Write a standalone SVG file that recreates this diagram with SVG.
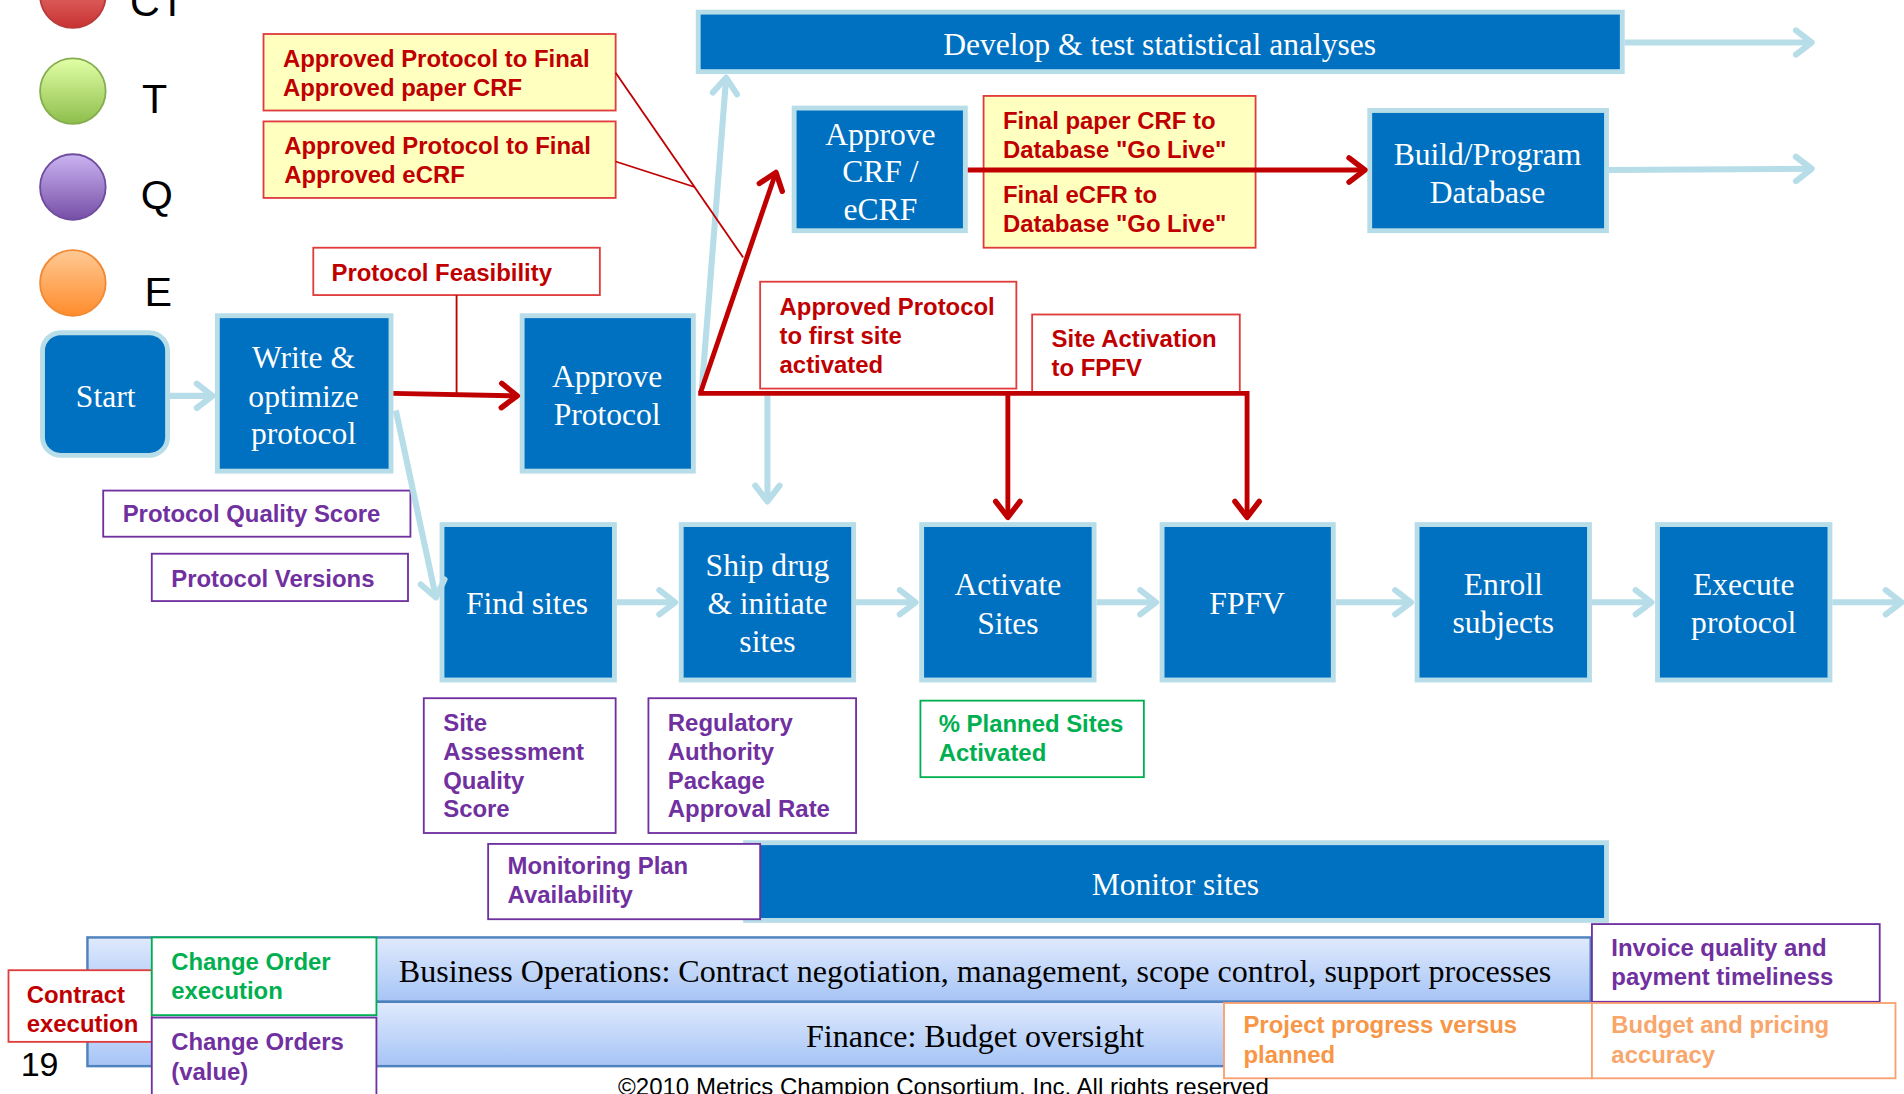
<svg xmlns="http://www.w3.org/2000/svg" width="1904" height="1094" viewBox="0 0 1904 1094">
<style>
.box{fill:#0070C0;stroke:#B7DDE8;stroke-width:4}
.bt{font-family:"Liberation Serif","Times New Roman",serif;font-size:26px;fill:#fff;text-anchor:middle}
.bk{font-family:"Liberation Serif","Times New Roman",serif;font-size:26.4px;fill:#000;text-anchor:middle}
.mt{font-family:"Liberation Sans",Arial,sans-serif;font-size:19.7px;font-weight:bold}
.lg{font-family:"Liberation Sans",Arial,sans-serif;font-size:34px;fill:#000}
.tr{fill:#C00000}.tp{fill:#7030A0}.tg{fill:#00B050}.to{fill:#F79646}
.rb{fill:#fff;stroke:#E03C3C;stroke-width:1.5}
.yb{fill:#FFFFC0;stroke:#E03C3C;stroke-width:1.5}
.pb{fill:#fff;stroke:#7030A0;stroke-width:1.5}
.gb{fill:#fff;stroke:#00B050;stroke-width:1.5}
.ob{fill:#fff;stroke:#F9A070;stroke-width:1.5}
.bar{fill:url(#gbar);stroke:#4F81BD;stroke-width:2}
.cb{stroke:#B7DDE8;stroke-width:5;fill:none}
.cr{stroke:#C00000;stroke-width:4;fill:none}
.ct{stroke:#C00000;stroke-width:1.5;fill:none}
</style>
<defs>
<linearGradient id="gbar" x1="0" y1="0" x2="0" y2="1"><stop offset="0" stop-color="#E0EAFD"/><stop offset="1" stop-color="#A6C4F6"/></linearGradient>
<linearGradient id="gr" x1="0" y1="0" x2="0" y2="1"><stop offset="0" stop-color="#F28A8A"/><stop offset="1" stop-color="#C83232"/></linearGradient>
<linearGradient id="gg" x1="0" y1="0" x2="0" y2="1"><stop offset="0" stop-color="#E2FFA6"/><stop offset="1" stop-color="#8DBE4C"/></linearGradient>
<linearGradient id="gp" x1="0" y1="0" x2="0" y2="1"><stop offset="0" stop-color="#CBB4F2"/><stop offset="1" stop-color="#764EA6"/></linearGradient>
<linearGradient id="go" x1="0" y1="0" x2="0" y2="1"><stop offset="0" stop-color="#FFC994"/><stop offset="1" stop-color="#FF8C2C"/></linearGradient>
<marker id="ab" markerUnits="userSpaceOnUse" viewBox="0 0 20 26" markerWidth="20" markerHeight="26" refX="17" refY="13" orient="auto" overflow="visible"><path d="M4,3 L17,13 L4,23" fill="none" stroke="#B7DDE8" stroke-width="5" stroke-linecap="round" stroke-linejoin="round"/></marker>
<marker id="ar" markerUnits="userSpaceOnUse" viewBox="0 0 20 26" markerWidth="20" markerHeight="26" refX="17" refY="13" orient="auto" overflow="visible"><path d="M4,3 L17,13 L4,23" fill="none" stroke="#C00000" stroke-width="4.5" stroke-linecap="round" stroke-linejoin="round"/></marker>
</defs>
<rect width="1904" height="1094" fill="#fff"/>
<g transform="scale(1.214286)">

<g id="legend">
<ellipse cx="60" cy="-4" rx="27" ry="27" fill="url(#gr)" stroke="#B83A3A" stroke-width="1.5"/>
<ellipse cx="60" cy="75" rx="27" ry="27" fill="url(#gg)" stroke="#86AE50" stroke-width="1.5"/>
<ellipse cx="60" cy="154" rx="27" ry="27" fill="url(#gp)" stroke="#6E4C9E" stroke-width="1.5"/>
<ellipse cx="60" cy="233" rx="27" ry="27" fill="url(#go)" stroke="#F08A34" stroke-width="1.5"/>
<text class="lg" x="107" y="13">CT</text>
<text class="lg" x="117" y="93">T</text>
<text class="lg" x="116" y="172">Q</text>
<text class="lg" x="119" y="252">E</text>
</g>

<g id="bars">
<rect class="bar" x="72" y="772" width="1238" height="53"/>
<rect class="bar" x="72" y="825" width="1238" height="53"/>
<text class="bk" x="803" y="809">Business Operations: Contract negotiation, management, scope control, support processes</text>
<text class="bk" x="803" y="862">Finance: Budget oversight</text>
</g>

<g id="monitor">
<rect class="box" x="614" y="694" width="709" height="64"/>
<text class="bt" x="968" y="737">Monitor sites</text>
</g>

<g id="start"><rect class="box" x="35" y="274" width="103" height="101" rx="15"/><text class="bt" x="87" y="335">Start</text></g>
<g id="write"><rect class="box" x="179" y="260" width="143" height="128"/><text class="bt" x="250" y="303">Write &amp;</text><text class="bt" x="250" y="335">optimize</text><text class="bt" x="250" y="366">protocol</text></g>
<g id="approve-protocol"><rect class="box" x="430" y="260" width="141" height="128"/><text class="bt" x="500" y="319">Approve</text><text class="bt" x="500" y="350">Protocol</text></g>
<g id="approve-crf"><rect class="box" x="654" y="89" width="141" height="101"/><text class="bt" x="725" y="119">Approve</text><text class="bt" x="725" y="150">CRF /</text><text class="bt" x="725" y="181">eCRF</text></g>
<g id="develop"><rect class="box" x="575" y="10" width="761" height="49"/><text class="bt" x="955" y="45">Develop &amp; test statistical analyses</text></g>
<g id="build"><rect class="box" x="1128" y="91" width="195" height="99"/><text class="bt" x="1225" y="136">Build/Program</text><text class="bt" x="1225" y="167">Database</text></g>
<g id="find"><rect class="box" x="364" y="432" width="142" height="128"/><text class="bt" x="434" y="506">Find sites</text></g>
<g id="ship"><rect class="box" x="561" y="432" width="142" height="128"/><text class="bt" x="632" y="474">Ship drug</text><text class="bt" x="632" y="506">&amp; initiate</text><text class="bt" x="632" y="537">sites</text></g>
<g id="activate"><rect class="box" x="759" y="432" width="142" height="128"/><text class="bt" x="830" y="490">Activate</text><text class="bt" x="830" y="522">Sites</text></g>
<g id="fpfv"><rect class="box" x="957" y="432" width="141" height="128"/><text class="bt" x="1027" y="506">FPFV</text></g>
<g id="enroll"><rect class="box" x="1167" y="432" width="142" height="128"/><text class="bt" x="1238" y="490">Enroll</text><text class="bt" x="1238" y="521">subjects</text></g>
<g id="execute"><rect class="box" x="1365" y="432" width="142" height="128"/><text class="bt" x="1436" y="490">Execute</text><text class="bt" x="1436" y="521">protocol</text></g>

<g id="m-crf-paper"><rect class="yb" x="217" y="28" width="290" height="63"/><text class="mt tr" x="233" y="55">Approved Protocol to Final</text><text class="mt tr" x="233" y="79">Approved paper CRF</text></g>
<g id="m-ecrf"><rect class="yb" x="217" y="100" width="290" height="63"/><text class="mt tr" x="234" y="127">Approved Protocol to Final</text><text class="mt tr" x="234" y="151">Approved eCRF</text></g>
<g id="m-feasibility"><rect class="rb" x="258" y="204" width="236" height="39"/><text class="mt tr" x="273" y="231">Protocol Feasibility</text></g>
<g id="m-golive"><rect class="yb" x="810" y="79" width="224" height="125"/><text class="mt tr" x="826" y="106">Final paper CRF to</text><text class="mt tr" x="826" y="130">Database "Go Live"</text><text class="mt tr" x="826" y="167">Final eCFR to</text><text class="mt tr" x="826" y="191">Database "Go Live"</text></g>
<g id="m-first-site"><rect class="rb" x="626" y="232" width="211" height="88"/><text class="mt tr" x="642" y="259">Approved Protocol</text><text class="mt tr" x="642" y="283">to first site</text><text class="mt tr" x="642" y="307">activated</text></g>
<g id="m-site-fpfv"><rect class="rb" x="850" y="259" width="171" height="64"/><text class="mt tr" x="866" y="286">Site Activation</text><text class="mt tr" x="866" y="310">to FPFV</text></g>
<g id="m-pqs"><rect class="pb" x="85" y="404" width="253" height="38"/><text class="mt tp" x="101" y="430">Protocol Quality Score</text></g>
<g id="m-pv"><rect class="pb" x="125" y="456" width="211" height="39"/><text class="mt tp" x="141" y="483">Protocol Versions</text></g>
<g id="m-saqs"><rect class="pb" x="349" y="575" width="158" height="111"/><text class="mt tp" x="365" y="602">Site</text><text class="mt tp" x="365" y="626">Assessment</text><text class="mt tp" x="365" y="650">Quality</text><text class="mt tp" x="365" y="673">Score</text></g>
<g id="m-rapar"><rect class="pb" x="534" y="575" width="171" height="111"/><text class="mt tp" x="550" y="602">Regulatory</text><text class="mt tp" x="550" y="626">Authority</text><text class="mt tp" x="550" y="650">Package</text><text class="mt tp" x="550" y="673">Approval Rate</text></g>
<g id="m-planned"><rect class="gb" x="758" y="577" width="184" height="63"/><text class="mt tg" x="773" y="603">% Planned Sites</text><text class="mt tg" x="773" y="627">Activated</text></g>
<g id="m-mpa"><rect class="pb" x="402" y="695" width="224" height="62"/><text class="mt tp" x="418" y="720">Monitoring Plan</text><text class="mt tp" x="418" y="744">Availability</text></g>
<g id="m-contract"><rect class="rb" x="7" y="799" width="118" height="59"/><text class="mt tr" x="22" y="826">Contract</text><text class="mt tr" x="22" y="850">execution</text></g>
<g id="m-coe"><rect class="gb" x="125" y="772" width="185" height="64"/><text class="mt tg" x="141" y="799">Change Order</text><text class="mt tg" x="141" y="823">execution</text></g>
<g id="m-cov"><rect class="pb" x="125" y="838" width="185" height="70"/><text class="mt tp" x="141" y="865">Change Orders</text><text class="mt tp" x="141" y="889">(value)</text></g>
<g id="m-invoice"><rect class="pb" x="1311" y="761" width="237" height="64"/><text class="mt tp" x="1327" y="787">Invoice quality and</text><text class="mt tp" x="1327" y="811">payment timeliness</text></g>
<g id="m-progress"><rect class="ob" x="1008" y="826" width="303" height="62"/><text class="mt to" x="1024" y="851">Project progress versus</text><text class="mt to" x="1024" y="875">planned</text></g>
<g id="m-budget"><rect class="ob" x="1311" y="826" width="250" height="62"/><text class="mt" fill="#F9A66C" x="1327" y="851">Budget and pricing</text><text class="mt" fill="#F9A66C" x="1327" y="875">accuracy</text></g>

<g id="connectors">
<line class="cb" x1="140" y1="326" x2="175" y2="326" marker-end="url(#ab)"/>
<line class="cb" x1="326" y1="338" x2="359" y2="492" marker-end="url(#ab)"/>
<line class="cb" x1="578" y1="320" x2="598" y2="64" marker-end="url(#ab)"/>
<line class="cb" x1="632" y1="326" x2="632" y2="413" marker-end="url(#ab)"/>
<line class="cb" x1="508" y1="496" x2="556" y2="496" marker-end="url(#ab)"/>
<line class="cb" x1="705" y1="496" x2="754" y2="496" marker-end="url(#ab)"/>
<line class="cb" x1="903" y1="496" x2="952" y2="496" marker-end="url(#ab)"/>
<line class="cb" x1="1100" y1="496" x2="1162" y2="496" marker-end="url(#ab)"/>
<line class="cb" x1="1311" y1="496" x2="1360" y2="496" marker-end="url(#ab)"/>
<line class="cb" x1="1509" y1="496" x2="1566" y2="496" marker-end="url(#ab)"/>
<line class="cb" x1="1338" y1="35" x2="1492" y2="35" marker-end="url(#ab)"/>
<line class="cb" x1="1325" y1="140" x2="1492" y2="139" marker-end="url(#ab)"/>
<line class="ct" x1="376" y1="243" x2="376" y2="324"/>
<line class="ct" x1="507" y1="60" x2="612" y2="212"/>
<line class="ct" x1="507" y1="133" x2="572" y2="154"/>
<line class="cr" x1="324" y1="324" x2="426" y2="326" marker-end="url(#ar)"/>
<line class="cr" x1="577" y1="323" x2="639" y2="142" marker-end="url(#ar)"/>
<line class="cr" x1="797" y1="140" x2="1124" y2="140" marker-end="url(#ar)"/>
<polyline class="cr" points="575,324 1027,324"/>
<line class="cr" x1="830" y1="324" x2="830" y2="426" marker-end="url(#ar)"/>
<line class="cr" x1="1027" y1="322" x2="1027" y2="426" marker-end="url(#ar)"/>
</g>

<text x="17" y="886" font-family="Liberation Sans, Arial, sans-serif" font-size="28" fill="#000">19</text>
<text x="509" y="902" font-family="Liberation Sans, Arial, sans-serif" font-size="19.8" fill="#000">©2010 Metrics Champion Consortium, Inc. All rights reserved</text>
</g>
</svg>
